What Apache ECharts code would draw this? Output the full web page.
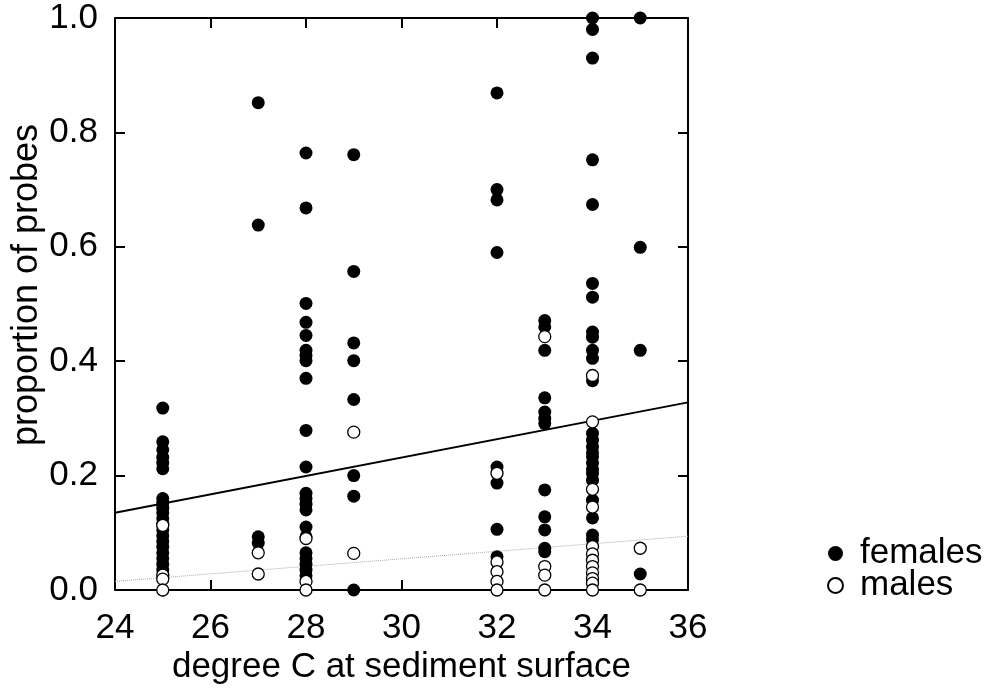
<!DOCTYPE html>
<html>
<head>
<meta charset="utf-8">
<script src="https://cdn.jsdelivr.net/npm/echarts@6/dist/echarts.min.js"></script>
<style>html,body{margin:0;padding:0;background:#fff;}#c{width:997px;height:695px;}</style>
</head>
<body>
<div id="c"></div>
<script>
// temperatures (degree C) of each column of points
const temps = [25, 27, 28, 29, 32, 33, 34, 35];
// proportion of probes, females, one list per temperature
const femaleValues = [
  [0.318, 0.259, 0.245, 0.232, 0.222, 0.212, 0.160, 0.152, 0.143, 0.135, 0.125, 0.115, 0.105, 0.095, 0.085, 0.075, 0.065, 0.055, 0.045, 0.035],
  [0.852, 0.638, 0.093, 0.082],
  [0.764, 0.668, 0.501, 0.468, 0.445, 0.419, 0.410, 0.401, 0.370, 0.279, 0.215, 0.169, 0.160, 0.150, 0.140, 0.110, 0.093, 0.065, 0.055, 0.045, 0.035, 0.025],
  [0.761, 0.557, 0.432, 0.401, 0.333, 0.200, 0.164, 0.000],
  [0.869, 0.700, 0.682, 0.590, 0.215, 0.187, 0.106, 0.058],
  [0.471, 0.460, 0.419, 0.336, 0.311, 0.300, 0.291, 0.175, 0.128, 0.105, 0.073, 0.067],
  [1.000, 0.980, 0.930, 0.752, 0.674, 0.536, 0.512, 0.451, 0.442, 0.419, 0.405, 0.366, 0.274, 0.262, 0.250, 0.240, 0.233, 0.222, 0.211, 0.204, 0.192, 0.157, 0.126, 0.096, 0.088],
  [1.000, 0.599, 0.419, 0.028]
];
// proportion of probes, males, one list per temperature
const maleValues = [
  [0.113, 0.026, 0.019, 0.000],
  [0.065, 0.028],
  [0.090, 0.015, 0.000],
  [0.276, 0.064],
  [0.204, 0.049, 0.032, 0.015, 0.000],
  [0.443, 0.041, 0.026, 0.000],
  [0.375, 0.294, 0.176, 0.145, 0.076, 0.063, 0.052, 0.041, 0.030, 0.020, 0.012, 0.000],
  [0.073, 0.000]
];
// fitted regression lines, end points at x = 24 and x = 36
const fitX = [24, 36];
const femaleFit = [0.135, 0.328];
const maleFit = [0.015, 0.094];
// tick labels
const xTicks = [24, 26, 28, 30, 32, 34, 36];
const yTicks = [0.0, 0.2, 0.4, 0.6, 0.8, 1.0];

function pairs(vals) {
  const out = [];
  temps.forEach((t, i) => vals[i].forEach(v => out.push([t, v])));
  return out;
}
const femaleData = pairs(femaleValues);
const maleData = pairs(maleValues);

const FONT = 'Liberation Sans, Arial, sans-serif';
const FS = 35;
const axisLineStyle = { color: '#000', width: 2 };
const tickStyle = { inside: true, length: 10, lineStyle: { color: '#000', width: 2 } };

const chart = echarts.init(document.getElementById('c'), null, { renderer: 'canvas' });
chart.setOption({
  animation: false,
  backgroundColor: '#fff',
  grid: { left: 115, right: 309, top: 18, bottom: 105, containLabel: false, outerBoundsMode: 'none' },
  xAxis: [
    {
      type: 'value', min: xTicks[0], max: xTicks[xTicks.length - 1], interval: 2, position: 'bottom',
      axisLine: { show: true, onZero: false, lineStyle: axisLineStyle },
      axisTick: tickStyle,
      splitLine: { show: false },
      axisLabel: { color: '#000', fontSize: FS, fontFamily: FONT, margin: 21 },
      name: 'degree C at sediment surface', nameLocation: 'middle', nameGap: 60, nameMoveOverlap: false,
      nameTextStyle: { color: '#000', fontSize: FS, fontFamily: FONT }
    },
    {
      type: 'value', min: xTicks[0], max: xTicks[xTicks.length - 1], interval: 2, position: 'top',
      axisLine: { show: true, onZero: false, lineStyle: axisLineStyle },
      axisTick: tickStyle, splitLine: { show: false }, axisLabel: { show: false }
    }
  ],
  yAxis: [
    {
      type: 'value', min: yTicks[0], max: yTicks[yTicks.length - 1], interval: 0.2, position: 'left',
      axisLine: { show: true, onZero: false, lineStyle: axisLineStyle },
      axisTick: tickStyle,
      splitLine: { show: false },
      axisLabel: { color: '#000', fontSize: FS, fontFamily: FONT, margin: 17, formatter: v => v.toFixed(1) },
      name: 'proportion of probes', nameLocation: 'middle', nameGap: 70, nameMoveOverlap: false,
      nameTextStyle: { color: '#000', fontSize: FS + 1, fontFamily: FONT, padding: [0, 0, 0, 38] }
    },
    {
      type: 'value', min: yTicks[0], max: yTicks[yTicks.length - 1], interval: 0.2, position: 'right',
      axisLine: { show: true, onZero: false, lineStyle: axisLineStyle },
      axisTick: tickStyle, splitLine: { show: false }, axisLabel: { show: false }
    }
  ],
  legend: {
    data: ['females', 'males'],
    orient: 'vertical', left: 822, top: 531,
    icon: 'circle', itemWidth: 15, itemHeight: 15, itemGap: -3,
    textStyle: { color: '#000', fontSize: FS, fontFamily: FONT, padding: [0, 0, 0, 12] }
  },
  series: [
    {
      type: 'line', name: 'femaleFit', data: fitX.map((x, i) => [x, femaleFit[i]]),
      symbol: 'none', z: 1, lineStyle: { color: '#000', width: 2 }, silent: true
    },
    {
      type: 'line', name: 'maleFit', data: fitX.map((x, i) => [x, maleFit[i]]),
      symbol: 'none', z: 1, lineStyle: { color: '#aaa', width: 1, type: 'dotted' }, silent: true
    },
    {
      type: 'scatter', name: 'females', data: femaleData, symbol: 'circle', symbolSize: 13, z: 2,
      itemStyle: { color: '#000', opacity: 1 }
    },
    {
      type: 'scatter', name: 'males', data: maleData, symbol: 'circle', symbolSize: 12, z: 3,
      itemStyle: { color: '#fff', borderColor: '#000', borderWidth: 1.3, opacity: 1 }
    }
  ]
});
</script>
</body>
</html>
